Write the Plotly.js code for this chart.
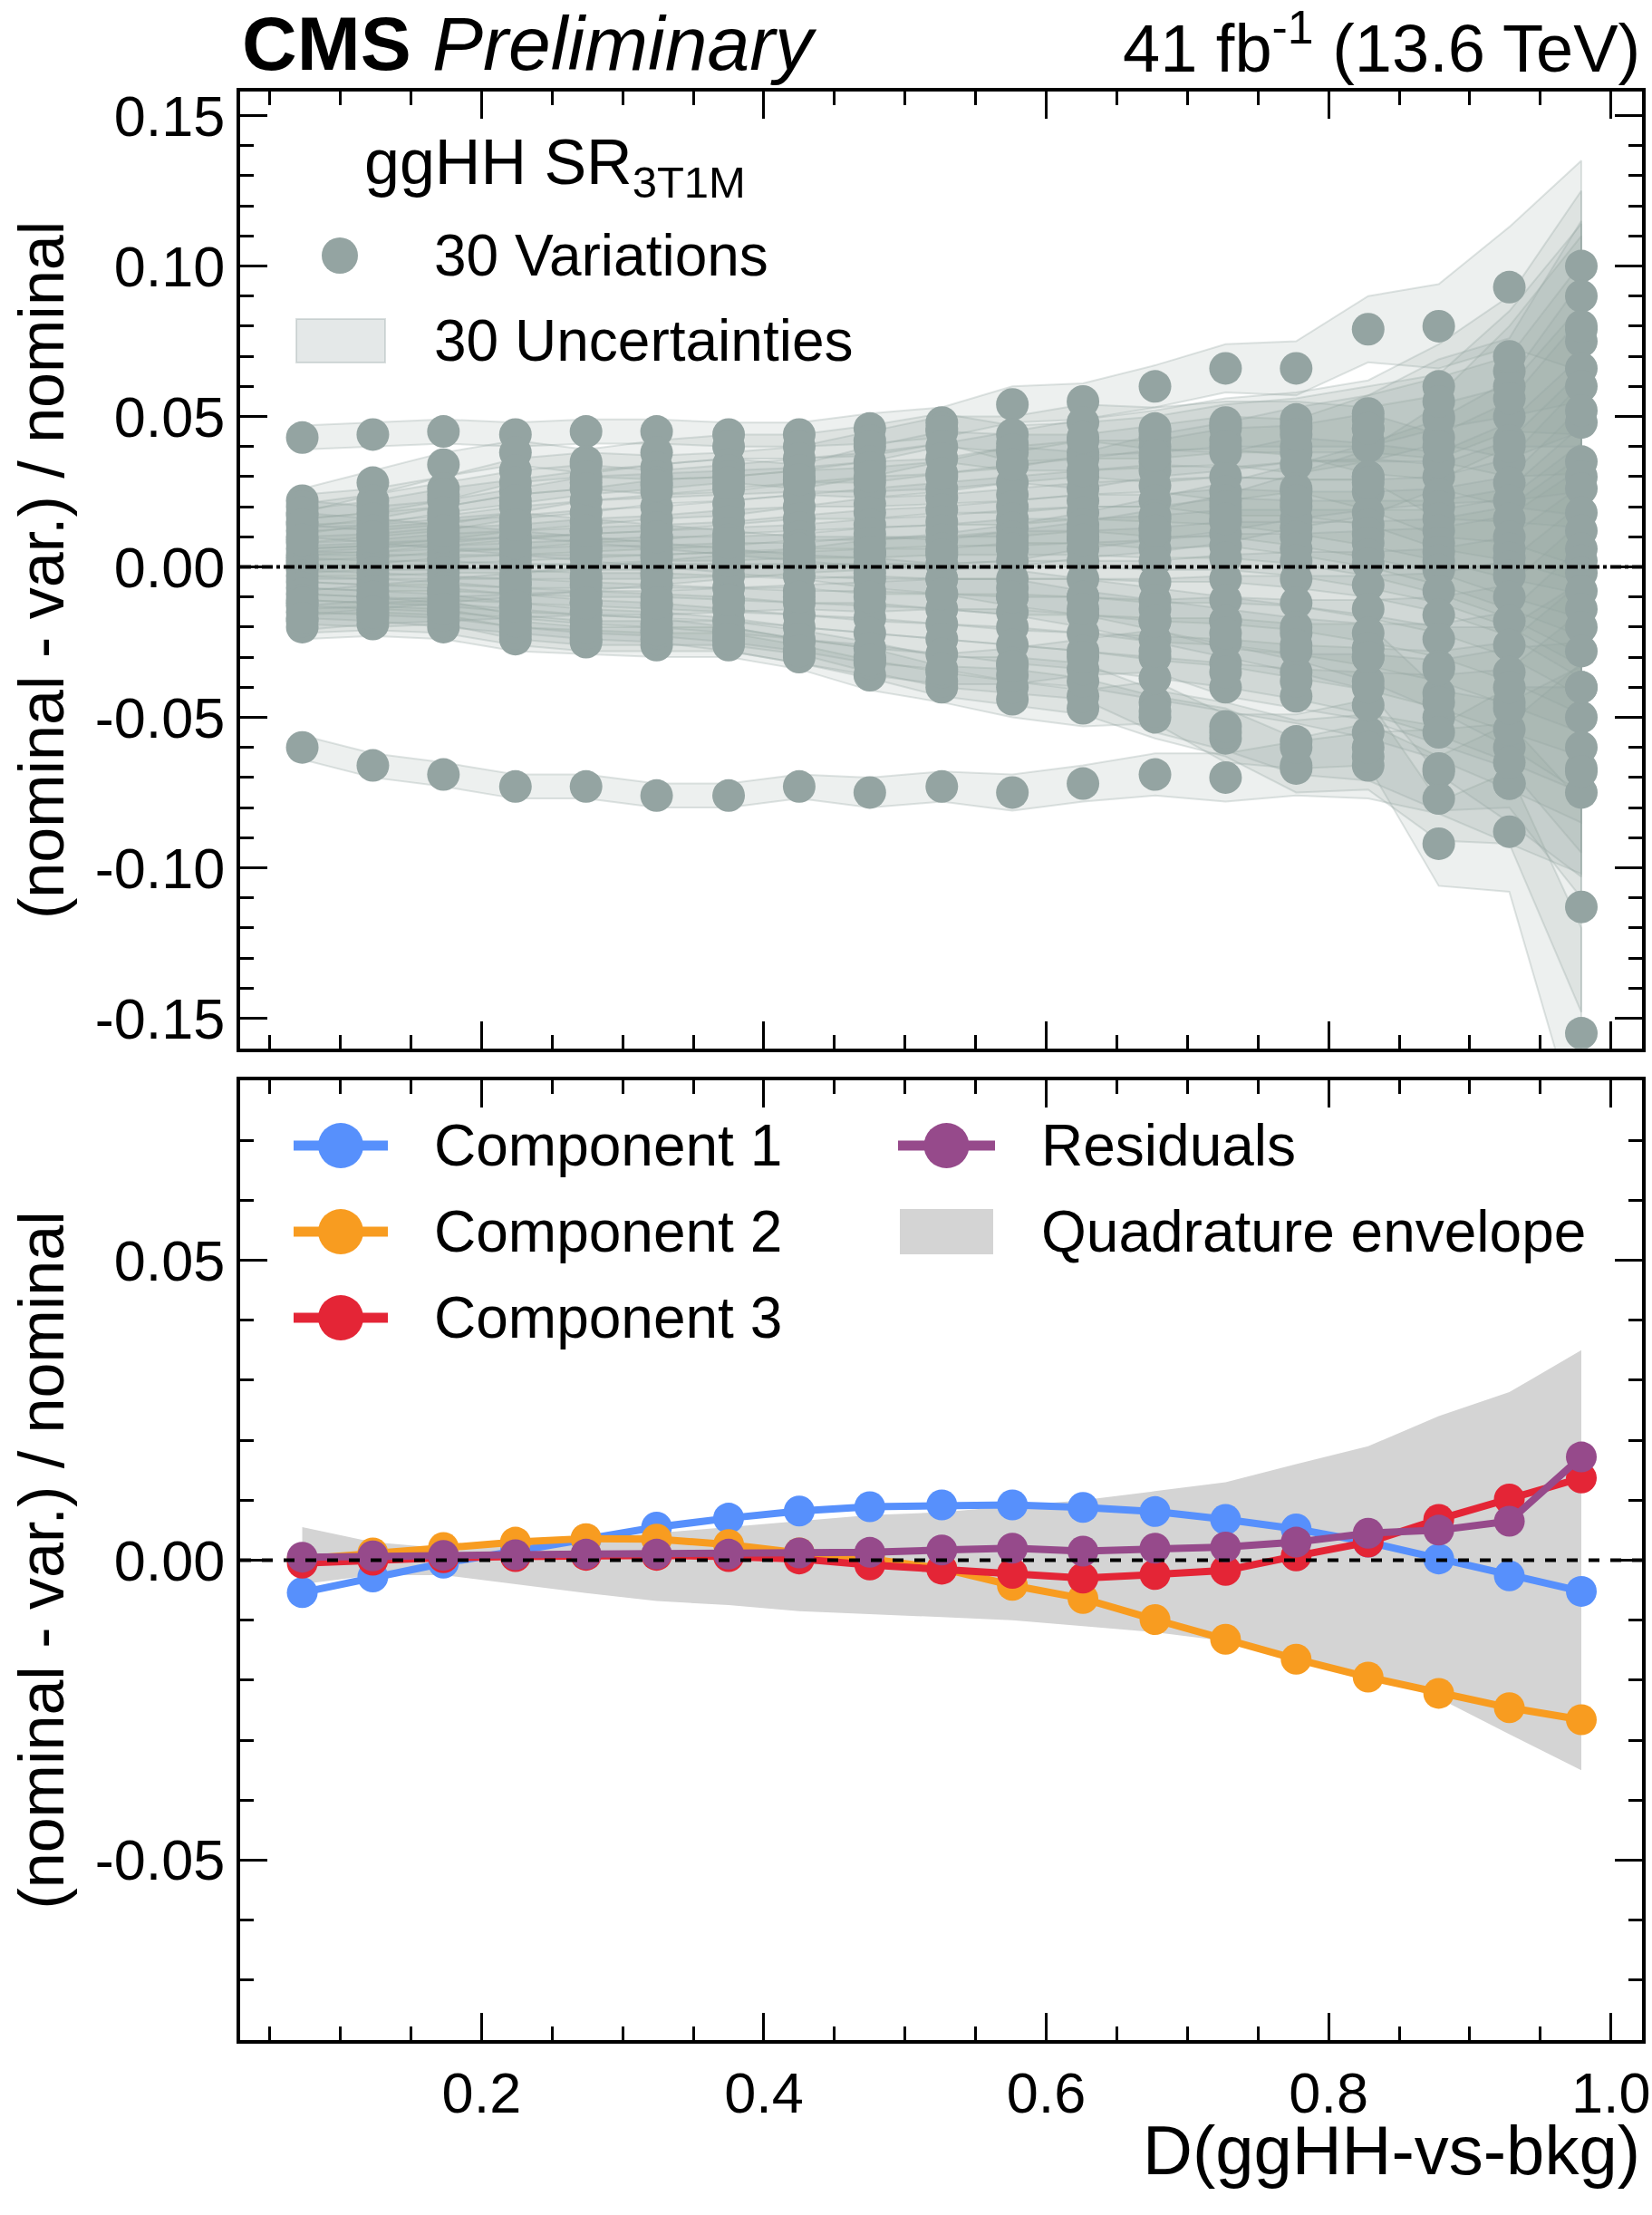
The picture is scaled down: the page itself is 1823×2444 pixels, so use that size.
<!DOCTYPE html>
<html><head><meta charset="utf-8">
<script src="https://cdn.plot.ly/plotly-3.0.1.min.js"></script>
<style>body{margin:0;background:#fff}</style></head>
<body><div id="plot" style="width:1823px;height:2444px"></div>
<script>
const xBins = [0.073,0.123,0.173,0.224,0.274,0.324,0.375,0.425,0.475,0.526,0.576,0.626,0.677,0.727,0.777,0.828,0.878,0.928,0.979];

const variations = [
[0.043,0.044,0.045,0.044,0.045,0.045,0.044,0.044,0.046,0.048,0.054,0.055,0.060,0.066,0.066,0.079,0.080,0.093,0.100],
[-0.060,-0.066,-0.069,-0.073,-0.073,-0.076,-0.076,-0.073,-0.075,-0.073,-0.075,-0.072,-0.069,-0.070,-0.067,-0.066,-0.068,-0.072,-0.067],
[0.022,0.028,0.034,0.038,0.035,0.038,0.040,0.040,0.042,0.046,0.041,0.042,0.043,0.046,0.047,0.049,0.050,0.065,0.079],
[0.020,0.022,0.026,0.032,0.034,0.033,0.034,0.036,0.040,0.045,0.044,0.048,0.046,0.047,0.046,0.042,0.043,0.060,0.075],
[-0.020,-0.019,-0.020,-0.024,-0.025,-0.026,-0.026,-0.030,-0.036,-0.040,-0.044,-0.047,-0.045,-0.057,-0.058,-0.055,-0.092,-0.088,-0.155],
[-0.018,-0.017,-0.018,-0.022,-0.024,-0.024,-0.024,-0.028,-0.032,-0.038,-0.040,-0.043,-0.050,-0.055,-0.066,-0.063,-0.077,-0.072,-0.113],
[-0.015,-0.016,-0.015,-0.020,-0.022,-0.022,-0.022,-0.025,-0.030,-0.035,-0.036,-0.038,-0.048,-0.053,-0.060,-0.060,-0.067,-0.060,-0.075],
[0.015,0.018,0.022,0.025,0.028,0.030,0.032,0.030,0.035,0.040,0.038,0.038,0.040,0.042,0.040,0.046,0.049,0.050,0.066],
[0.012,0.014,0.016,0.020,0.022,0.025,0.026,0.028,0.028,0.030,0.034,0.036,0.035,0.038,0.038,0.040,0.030,0.035,0.048],
[0.010,0.011,0.013,0.016,0.018,0.020,0.021,0.024,0.025,0.026,0.028,0.030,0.032,0.030,0.034,0.030,0.024,0.028,0.035],
[0.008,0.009,0.011,0.013,0.015,0.016,0.018,0.020,0.021,0.023,0.024,0.026,0.027,0.025,0.026,0.025,0.020,0.022,0.030],
[0.006,0.007,0.009,0.010,0.012,0.013,0.015,0.016,0.018,0.019,0.020,0.022,0.022,0.022,0.020,0.018,0.016,0.016,0.026],
[0.004,0.005,0.007,0.008,0.009,0.010,0.011,0.013,0.014,0.015,0.016,0.018,0.017,0.018,0.016,0.014,0.012,0.010,0.018],
[0.003,0.004,0.005,0.006,0.007,0.008,0.009,0.010,0.011,0.012,0.013,0.014,0.013,0.015,0.013,0.011,0.008,0.006,0.012],
[0.002,0.003,0.003,0.004,0.005,0.006,0.006,0.007,0.008,0.009,0.010,0.010,0.010,0.011,0.010,0.008,0.005,0.003,0.006],
[0.001,0.001,0.002,0.002,0.003,0.003,0.004,0.004,0.005,0.005,0.006,0.006,0.006,0.007,0.006,0.004,0.002,0.000,0.002],
[0.000,0.000,0.000,0.000,0.000,0.000,0.001,0.001,0.001,0.001,0.002,0.002,0.002,0.003,0.002,0.001,-0.001,-0.003,-0.002],
[-0.001,-0.002,-0.002,-0.003,-0.003,-0.003,-0.003,-0.003,-0.004,-0.004,-0.004,-0.004,-0.005,-0.004,-0.004,-0.006,-0.008,-0.010,-0.008],
[-0.003,-0.004,-0.004,-0.005,-0.006,-0.006,-0.007,-0.008,-0.008,-0.009,-0.010,-0.010,-0.011,-0.011,-0.012,-0.014,-0.016,-0.018,-0.014],
[-0.005,-0.006,-0.007,-0.008,-0.009,-0.010,-0.011,-0.012,-0.013,-0.014,-0.015,-0.016,-0.018,-0.018,-0.020,-0.022,-0.024,-0.026,-0.020],
[-0.007,-0.008,-0.009,-0.011,-0.012,-0.013,-0.014,-0.016,-0.017,-0.019,-0.020,-0.022,-0.024,-0.025,-0.028,-0.030,-0.033,-0.035,-0.028],
[-0.009,-0.010,-0.011,-0.013,-0.015,-0.016,-0.018,-0.020,-0.022,-0.024,-0.026,-0.028,-0.030,-0.032,-0.035,-0.038,-0.042,-0.045,-0.040],
[-0.011,-0.012,-0.013,-0.016,-0.018,-0.019,-0.021,-0.024,-0.027,-0.029,-0.032,-0.034,-0.037,-0.040,-0.043,-0.046,-0.050,-0.054,-0.050],
[-0.013,-0.014,-0.016,-0.018,-0.020,-0.021,-0.024,-0.028,-0.031,-0.034,-0.033,-0.030,-0.028,-0.035,-0.038,-0.040,-0.045,-0.047,-0.060],
[0.017,0.020,0.024,0.028,0.030,0.028,0.030,0.032,0.033,0.036,0.039,0.043,0.045,0.048,0.049,0.051,0.060,0.070,0.090],
[0.018,0.016,0.018,0.022,0.026,0.027,0.028,0.029,0.030,0.031,0.034,0.032,0.037,0.040,0.044,0.046,0.055,0.056,0.080],
[-0.012,-0.010,-0.008,-0.006,-0.004,-0.002,0.000,0.002,0.004,0.006,0.008,0.012,0.016,0.020,0.025,0.030,0.035,0.042,0.060],
[0.014,0.012,0.010,0.008,0.006,0.004,0.002,0.000,-0.002,-0.004,-0.007,-0.010,-0.014,-0.018,-0.022,-0.027,-0.034,-0.040,-0.040],
[-0.017,-0.015,-0.014,-0.013,-0.012,-0.012,-0.011,-0.010,-0.010,-0.009,-0.010,-0.014,-0.018,-0.022,-0.026,-0.030,-0.055,-0.065,-0.068],
[0.009,0.010,0.012,0.014,0.012,0.010,0.008,0.006,0.005,0.004,0.006,0.009,0.012,0.016,0.022,0.028,0.040,0.040,0.052]
];
const uncertainty = [0.004,0.004,0.004,0.004,0.004,0.004,0.004,0.004,0.005,0.005,0.006,0.006,0.007,0.008,0.009,0.011,0.014,0.020,0.035];

const comp1 = [-0.0054,-0.0028,-0.0005,0.0015,0.0035,0.0055,0.0070,0.0082,0.0089,0.0092,0.0092,0.0088,0.0081,0.0068,0.0052,0.0030,0.0002,-0.0026,-0.0052];
const comp2 = [0.0002,0.0012,0.0021,0.0030,0.0036,0.0035,0.0026,0.0012,0.0002,-0.0014,-0.0042,-0.0064,-0.0099,-0.0132,-0.0165,-0.0195,-0.0222,-0.0246,-0.0266];
const comp3 = [-0.0005,0.0000,0.0004,0.0006,0.0008,0.0008,0.0006,0.0002,-0.0008,-0.0015,-0.0022,-0.0030,-0.0024,-0.0017,0.0007,0.0030,0.0068,0.0102,0.0137];
const resid = [0.0005,0.0007,0.0008,0.0009,0.0010,0.0010,0.0010,0.0012,0.0013,0.0017,0.0020,0.0015,0.0020,0.0022,0.0030,0.0045,0.0050,0.0065,0.0172];
const envUp = [0.0055,0.0030,0.0020,0.0025,0.0035,0.0045,0.0055,0.0065,0.0075,0.0080,0.0090,0.0100,0.0115,0.0130,0.0160,0.0190,0.0240,0.0280,0.0350];
const envDn = [-0.0040,-0.0025,-0.0025,-0.0040,-0.0055,-0.0068,-0.0075,-0.0085,-0.0090,-0.0095,-0.0100,-0.0110,-0.0120,-0.0135,-0.0160,-0.0190,-0.0230,-0.0290,-0.0350];

const FONT = "Liberation Sans, Arial, sans-serif";
const grey = "rgb(148,164,162)";
const bandFill = 'rgba(148,164,162,0.17)';
const traces = [];
variations.forEach((v) => {
  const up = v.map((y, k) => y + uncertainty[k]);
  const dn = v.map((y, k) => y - uncertainty[k]);
  traces.push({x: xBins.concat(xBins.slice().reverse()), y: up.concat(dn.slice().reverse()),
    type: 'scatter', mode: 'lines', fill: 'toself', fillcolor: bandFill,
    line: {color: 'rgba(148,164,162,0.3)', width: 2}, xaxis: 'x', yaxis: 'y', showlegend: false, hoverinfo: 'skip'});
});
variations.forEach((v) => {
  traces.push({x: xBins, y: v, type: 'scatter', mode: 'markers',
    marker: {color: grey, size: 36}, xaxis: 'x', yaxis: 'y', showlegend: false});
});
traces.push({x: xBins.concat(xBins.slice().reverse()), y: envUp.concat(envDn.slice().reverse()),
  type: 'scatter', mode: 'lines', fill: 'toself', fillcolor: 'rgb(212,212,212)', line: {width: 0, color: 'rgb(212,212,212)'},
  xaxis: 'x2', yaxis: 'y2', showlegend: false});
const C1 = '#5790fc', C2 = '#f89c20', C3 = '#e42536', CR = '#964a8b';
[[comp1, C1], [comp2, C2], [comp3, C3], [resid, CR]].forEach(([d, c]) => traces.push({x: xBins, y: d, type: 'scatter', mode: 'lines+markers',
  line: {color: c, width: 8}, marker: {color: c, size: 34}, xaxis: 'x2', yaxis: 'y2', showlegend: false}));

// pixel -> paper helpers (plot area: x 265..1812, y 101..2251)
const PX = p => (p - 265) / 1547;
const PY = p => (2251 - p) / 2150;
const shapes = [
  {type: 'line', xref: 'x', yref: 'y', x0: 0.029, x1: 1.022, y0: 0, y1: 0, line: {color: 'black', width: 4, dash: 'dashdot'}},
  {type: 'line', xref: 'x2', yref: 'y2', x0: 0.029, x1: 1.022, y0: 0, y1: 0, line: {color: 'black', width: 4, dash: 'dash'}}
];
const annotations = [
  {xref: 'paper', yref: 'paper', x: 0, y: 1.002, xanchor: 'left', yanchor: 'bottom', showarrow: false,
   text: '<b>CMS</b> <i>Preliminary</i>', font: {family: FONT, size: 84}},
  {xref: 'paper', yref: 'paper', x: 1, y: 1.002, xanchor: 'right', yanchor: 'bottom', showarrow: false,
   text: '41 fb<sup>-1</sup> (13.6 TeV)', font: {family: FONT, size: 74}},
  {xref: 'paper', yref: 'paper', x: 1, y: PY(2372), xanchor: 'right', yanchor: 'middle', showarrow: false,
   text: 'D(ggHH-vs-bkg)', font: {family: FONT, size: 76}},
  {xref: 'paper', yref: 'paper', x: PX(400), y: PY(184), xanchor: 'left', yanchor: 'middle', showarrow: false,
   text: 'ggHH SR<sub>3T1M</sub>', font: {family: FONT, size: 70}}
];
function circle(cx, cy, d, color) {
  shapes.push({type: 'circle', xref: 'paper', yref: 'paper', xsizemode: 'pixel', ysizemode: 'pixel',
    xanchor: PX(cx), yanchor: PY(cy), x0: -d/2, x1: d/2, y0: -d/2, y1: d/2, fillcolor: color, line: {width: 0}});
}
function label(x, y, t) {
  annotations.push({xref: 'paper', yref: 'paper', x: PX(x), y: PY(y), xanchor: 'left', yanchor: 'middle',
    showarrow: false, text: t, font: {family: FONT, size: 64}});
}
function lineEntry(x0, x1, y, color, t, tx) {
  shapes.push({type: 'line', xref: 'paper', yref: 'paper', x0: PX(x0), x1: PX(x1), y0: PY(y), y1: PY(y), line: {color: color, width: 11}});
  circle((x0 + x1) / 2, y, 50, color);
  label(tx, y, t);
}
function boxEntry(x0, x1, y0, y1, fill, lc, t, tx) {
  shapes.push({type: 'rect', xref: 'paper', yref: 'paper', x0: PX(x0), x1: PX(x1), y0: PY(y0), y1: PY(y1), fillcolor: fill, line: {color: lc, width: 2}});
  label(tx, (y0 + y1) / 2, t);
}
circle(375, 282, 40, grey); label(477, 282, '30 Variations');
boxEntry(327, 425, 352, 400, 'rgba(148,164,162,0.25)', 'rgba(148,164,162,0.35)', '30 Uncertainties', 477);
lineEntry(324, 428, 1264, C1, 'Component 1', 477);
lineEntry(324, 428, 1359, C2, 'Component 2', 477);
lineEntry(324, 428, 1454, C3, 'Component 3', 477);
lineEntry(991, 1098, 1264, CR, 'Residuals', 1147);
boxEntry(994, 1095, 1335, 1383, 'rgb(212,212,212)', 'rgb(212,212,212)', 'Quadrature envelope', 1147);

const mt = {ticks: 'inside', ticklen: 15, tickwidth: 3, tickcolor: 'black'};
const axBase = {showline: true, linecolor: 'black', linewidth: 4, mirror: 'allticks', ticks: 'inside',
  ticklen: 30, tickwidth: 3, tickcolor: 'black', zeroline: false, showgrid: false,
  tickfont: {family: FONT, size: 63, color: 'black'}};
const ytitle = {text: '(nominal - var.) / nominal', font: {family: FONT, size: 70}, standoff: 12};
const layout = {
  width: 1823, height: 2444, paper_bgcolor: 'white', plot_bgcolor: 'white',
  margin: {l: 265, r: 11, t: 101, b: 193}, showlegend: false,
  font: {family: FONT, color: 'black'},
  xaxis: Object.assign({}, axBase, {range: [0.029, 1.022], domain: [0, 1], anchor: 'y', showticklabels: false,
    tickvals: [0.2,0.4,0.6,0.8,1.0], minor: Object.assign({dtick: 0.05}, mt)}),
  yaxis: Object.assign({}, axBase, {range: [-0.160, 0.158], domain: [0.509, 1], anchor: 'x',
    tickvals: [-0.15,-0.10,-0.05,0,0.05,0.10,0.15], ticktext: ['-0.15','-0.10','-0.05','0.00','0.05','0.10','0.15'],
    minor: Object.assign({dtick: 0.01}, mt), title: ytitle}),
  xaxis2: Object.assign({}, axBase, {range: [0.029, 1.022], domain: [0, 1], anchor: 'y2',
    tickvals: [0.2,0.4,0.6,0.8,1.0], ticktext: ['0.2','0.4','0.6','0.8','1.0'],
    minor: Object.assign({dtick: 0.05}, mt)}),
  yaxis2: Object.assign({}, axBase, {range: [-0.080, 0.080], domain: [0, 0.4926], anchor: 'x2',
    tickvals: [-0.05,0,0.05], ticktext: ['-0.05','0.00','0.05'],
    minor: Object.assign({dtick: 0.01}, mt), title: ytitle}),
  shapes: shapes, annotations: annotations
};
Plotly.newPlot('plot', traces, layout, {staticPlot: true});
</script></body></html>
